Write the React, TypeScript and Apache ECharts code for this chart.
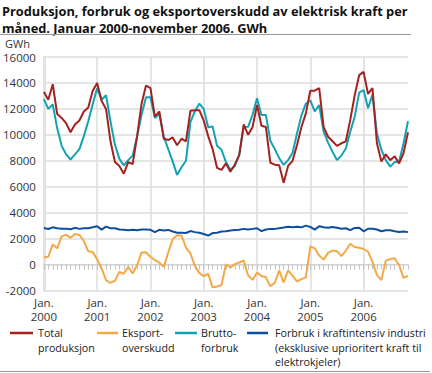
import React, { useEffect, useRef } from 'react';
import * as echarts from 'echarts';

// ---------- data ----------
const years = ['2000', '2001', '2002', '2003', '2004', '2005', '2006'];
const monthNumbers = ['01', '02', '03', '04', '05', '06', '07', '08', '09', '10', '11', '12'];
const monthsInLastYear = 11; // data ends November 2006

const categories: string[] = [];
years.forEach((y, yi) =>
  monthNumbers.forEach((m, mi) => {
    if (yi < years.length - 1 || mi < monthsInLastYear) categories.push(`${y}M${m}`);
  })
);

const xTickLabels = ['Jan.\n2000', 'Jan.\n2001', 'Jan.\n2002', 'Jan.\n2003', 'Jan.\n2004', 'Jan.\n2005', 'Jan.\n2006'];

const totalProduksjon = [
  13300, 12700, 13900, 11600, 11300, 10900, 10200, 10800, 11100, 11800, 12100, 13400,
  14000, 12600, 12000, 9500, 7900, 7600, 7000, 7900, 7750, 9900, 12400, 13800,
  13600, 11400, 11800, 9700, 9600, 9800, 9200, 9700, 9500, 11850, 11900, 11900,
  11100, 9900, 8900, 7450, 7300, 7800, 7150, 7700, 8450, 10800, 10000, 10600,
  12300, 10700, 10600, 7850, 7700, 7650, 6300, 7600, 8000, 9200, 10600, 11650,
  13400, 13400, 13600, 10600, 9850, 9500, 9150, 9350, 9500, 11150, 13050, 14600,
  14850, 13150, 13600, 9350, 7950, 8500, 8050, 8350, 7800, 8600, 10200,
];

const eksportoverskudd = [
  550, 600, 1550, 1250, 2170, 2290, 2060, 2350, 2280, 1830, 1020, 970,
  400, -300, -1200, -1420, -1240, -570, -710, -170, -690, -40, 930, 950,
  600, 350, 150, -180, 930, 1960, 2260, 2240, 1310, 870, -100, -640,
  -900, -720, -1760, -1700, -1580, 20, -230, 30, 160, 310, -840, -1180,
  -620, -880, -980, -1680, -1400, -470, -1370, -450, -860, -1300, -1120, -990,
  1400, 1250, 700, 380, 900, 1080, 1030, 650, 1080, 1600, 1350, 1300,
  1200, 1000, 200, -800, -1200, 300, 420, 480, -50, -1030, -870,
];

const bruttoforbruk = [
  12750, 12000, 12350, 10500, 9150, 8500, 8100, 8500, 8900, 9900, 11050, 12350,
  13600, 12700, 13050, 11050, 9250, 8150, 7650, 8050, 8400, 9900, 11550, 12900,
  12900, 11300, 11600, 9850, 8900, 7950, 6900, 7500, 8000, 11000, 11800, 12400,
  12000, 10580, 10650, 9150, 8850, 7900, 7300, 7600, 8450, 10600, 10620, 11570,
  12820, 11520, 11520, 9550, 8900, 8200, 7680, 8050, 8600, 10100, 11500, 12400,
  12650, 11800, 12300, 10250, 9400, 8700, 8060, 8400, 8950, 10250, 11400, 13250,
  13450, 12050, 13100, 10100, 8850, 8050, 7550, 7900, 7950, 9350, 11050,
];

const forbrukKraftintensiv = [
  2820, 2740, 2870, 2800, 2760, 2760, 2720, 2830, 2750, 2800, 2800, 2870,
  2950, 2690, 2920, 2800, 2800, 2700, 2680, 2640, 2690, 2640, 2700, 2710,
  2680, 2500, 2680, 2620, 2670, 2550, 2450, 2450, 2430, 2580, 2500, 2450,
  2360, 2230, 2430, 2450, 2550, 2560, 2620, 2670, 2680, 2750, 2700, 2750,
  2800, 2580, 2700, 2750, 2750, 2800, 2850, 2920, 2870, 2920, 2870, 3000,
  2900, 2690, 2950, 2870, 2840, 2900, 2830, 2760, 2800, 2650, 2820, 2840,
  2560, 2760, 2760, 2700, 2570, 2640, 2640, 2570, 2510, 2550, 2500,
];

const seriesNames = ['Total produksjon', 'Eksportoverskudd', 'Bruttoforbruk', 'Forbruk i kraftintensiv industri'];
const legendLabels = [
  'Total\nproduksjon',
  'Eksport-\noverskudd',
  'Brutto-\nforbruk',
  'Forbruk i kraftintensiv industri\n(eksklusive uprioritert kraft til\nelektrokjeler)',
];
const titleLines = [
  'Produksjon, forbruk og eksportoverskudd av elektrisk kraft per',
  'måned. Januar 2000-november 2006. GWh',
];
const unitLabel = 'GWh';

// ---------- style ----------
const FONT = '"Open Sans", sans-serif';
const RED = '#a3221f';
const ORANGE = '#f4a846';
const TEAL = '#11a2b4';
const BLUE = '#0e4f9d';
const GRID = '#dcdcdc';

export default function App() {
  const ref = useRef<HTMLDivElement>(null);

  useEffect(() => {
    if (!ref.current) return;
    const chart = echarts.init(ref.current, null, { renderer: 'svg' });

    const colors = [RED, ORANGE, TEAL, BLUE];
    const legendLayout = [
      { x1: 10, x2: 33, tx: 38 },
      { x1: 97, x2: 118, tx: 122 },
      { x1: 175, x2: 197, tx: 201 },
      { x1: 247, x2: 268, tx: 275 },
    ];
    const legendGraphics: any[] = [];
    legendLabels.forEach((lab, i) => {
      const L = legendLayout[i];
      legendGraphics.push({
        type: 'line',
        shape: { x1: L.x1, y1: 333, x2: L.x2, y2: 333 },
        style: { stroke: colors[i], lineWidth: 2.5 },
      });
      lab.split('\n').forEach((line, li) => {
        legendGraphics.push({
          type: 'text',
          x: L.tx,
          y: 333 + li * 14.5,
          style: {
            text: line,
            fill: '#222',
            font: `10.7px ${FONT}`,
            textVerticalAlign: 'middle',
          },
        });
      });
    });

    const option: any = {
      animation: false,
      backgroundColor: '#ffffff',
      textStyle: { fontFamily: FONT },
      grid: { left: 43, right: 24, top: 57, bottom: 82.5, containLabel: false },
      xAxis: [
        {
          type: 'category',
          data: categories,
          boundaryGap: false,
          position: 'bottom',
          axisLine: { show: false, onZero: false },
          axisTick: { show: false },
          splitLine: {
            show: true,
            interval: (i: number) => i % 12 === 0,
            lineStyle: { color: GRID, width: 1.5 },
          },
          axisLabel: {
            interval: (i: number) => i % 12 === 0,
            formatter: (_v: string, i: number) => xTickLabels[Math.floor(i / 12)],
            color: '#333',
            fontSize: 11.5,
            lineHeight: 14,
            margin: 5,
            fontFamily: FONT,
          },
        },
        {
          type: 'category',
          data: categories,
          boundaryGap: false,
          position: 'top',
          axisLine: { show: true, onZero: true, lineStyle: { color: '#d4d4d4', width: 1 } },
          axisTick: { show: true, interval: 0, inside: true, length: 5, lineStyle: { color: '#c4c4c4', width: 1 } },
          axisLabel: { show: false },
          splitLine: { show: false },
        },
      ],
      yAxis: {
        type: 'value',
        min: -2000,
        max: 16000,
        interval: 2000,
        axisLine: { show: true, lineStyle: { color: '#e2e2e2', width: 3 } },
        axisTick: { show: false },
        splitLine: { show: true, lineStyle: { color: GRID, width: 1.5 } },
        axisLabel: {
          color: '#333',
          fontSize: 11.5,
          margin: 8,
          fontFamily: FONT,
          formatter: (v: number) => String(v),
        },
      },
      series: [
        { name: seriesNames[2], data: bruttoforbruk, color: TEAL },
        { name: seriesNames[1], data: eksportoverskudd, color: ORANGE },
        { name: seriesNames[3], data: forbrukKraftintensiv, color: BLUE },
        { name: seriesNames[0], data: totalProduksjon, color: RED },
      ].map((s) => ({
        type: 'line',
        name: s.name,
        data: s.data,
        xAxisIndex: 0,
        showSymbol: false,
        symbol: 'none',
        lineStyle: { color: s.color, width: 2 },
        itemStyle: { color: s.color },
      })),
      graphic: [
        ...titleLines.map((t, i) => ({
          type: 'text',
          x: 2,
          y: 10.5 + i * 17.5,
          style: {
            text: t,
            fill: '#111',
            font: `bold 12.8px ${FONT}`,
            textVerticalAlign: 'middle',
          },
        })),
        { type: 'line', shape: { x1: 0, y1: 34.5, x2: 411, y2: 34.5 }, style: { stroke: '#9a9a9a', lineWidth: 1 } },
        {
          type: 'text',
          x: 5,
          y: 43.5,
          style: { text: unitLabel, fill: '#333', font: `11px ${FONT}`, textVerticalAlign: 'middle' },
        },
        ...legendGraphics,
        { type: 'line', shape: { x1: 0, y1: 371.5, x2: 430, y2: 371.5 }, style: { stroke: '#9a9a9a', lineWidth: 1 } },
      ],
    };

    chart.setOption(option);
    return () => chart.dispose();
  }, []);

  return (
    <div
      ref={ref}
      style={{ position: 'fixed', left: 0, top: 0, width: 432, height: 373, background: '#fff' }}
    />
  );
}
